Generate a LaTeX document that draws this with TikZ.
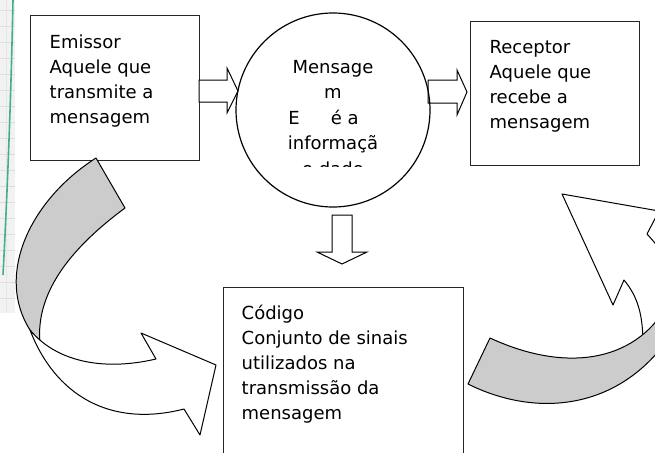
\documentclass[tikz,border=0pt]{standalone}
\usepackage{fontspec}
\setmainfont{DejaVu Sans}
\definecolor{tealgreen}{RGB}{70,175,135}
\definecolor{ribbongray}{RGB}{204,204,204}
\begin{document}
\begin{tikzpicture}[x=1pt,y=-1pt,
  box/.style={draw=black!85, line width=0.9pt, fill=white, inner sep=0pt, anchor=north west},
  txt/.style={font=\fontsize{18}{25}\selectfont, align=left, anchor=base west, inner sep=0pt},
  ctxt/.style={font=\fontsize{18}{25.5}\selectfont, align=center, anchor=base, inner sep=0pt},
  blk/.style={draw=black, line width=1pt, fill=white, line join=miter},
  ribbon/.style={draw=black, line width=1pt, line join=round},
]
\useasboundingbox (0,0) rectangle (655,452);
\clip (0,0) rectangle (655,452);

% texture strip at the left edge
\fill[black!5] (0,0) rectangle (15,313);
\foreach \yy in {10,26,...,300} \draw[black!13, line width=0.4pt] (0,\yy) -- (15,\yy);
\draw[black!10, line width=0.4pt] (6,0) -- (6,313);
\draw[tealgreen, line width=1.6pt] (13,0) .. controls (11,100) and (7,200) .. (3,275);

% boxes and circle
\node[box, minimum width=169pt, minimum height=145pt] (emissor) at (30,15) {};
\node[box, minimum width=169pt, minimum height=144pt] (receptor) at (470,21) {};
\node[box, minimum width=240pt, minimum height=200pt] (codigo) at (223,287) {};

% block arrows
\draw[blk] (199,80) -- (227,80) -- (227,68) -- (238,91) -- (227,113) -- (227,102) -- (199,102) -- cycle;
\draw[blk] (428,80) -- (457,80) -- (457,70) -- (467,92) -- (457,115) -- (457,103) -- (428,103) -- cycle;
\draw[blk] (332,215) -- (352,215) -- (352,252) -- (367,252) -- (342,264) -- (317,252) -- (332,252) -- cycle;

\node[circle, draw=black, line width=1.2pt, minimum size=194pt, inner sep=0pt] (mensagem) at (333,110) {};

% texts (base anchor = baseline of the last line)
\node[txt] (emissorTxt) at (49.5,123) {Emissor\\Aquele que\\transmite a\\mensagem};
\node[txt] (receptorTxt) at (489.5,128) {Receptor\\Aquele que\\recebe a\\mensagem};
\node[txt] (codigoTxt) at (241.5,419) {Código\\Conjunto de sinais\\utilizados na\\transmissão da\\mensagem};
\begin{scope}
  \clip (220,0) rectangle (450,166.5);
  \node[ctxt] (mensagemTxt) at (333,175) {Mensage\\m\\E\hspace{31pt}é a\rule{19pt}{0pt}\\informaçã\\o dado};
\end{scope}

% left curved arrow
\filldraw[ribbon, fill=ribbongray] (96,158) .. controls (30,200) and (-5,275) .. (30,330) -- (40,343) .. controls (35,290) and (75,245) .. (125,208) -- cycle;
\filldraw[ribbon, fill=white] (30,330) .. controls (55,395) and (110,428) .. (184,409) -- (200,435) -- (216,365) -- (141,333) -- (156,359) .. controls (100,372) and (55,360) .. cycle;

% right curved arrow
\filldraw[ribbon, fill=white] (643,345) .. controls (643,315) and (638,297) .. (624,280) -- (613,305) -- (562,194) -- (659,211) -- (647,234) .. controls (680,270) and (700,310) .. (690,360) -- cycle;
\filldraw[ribbon, fill=ribbongray] (490,338) .. controls (570,375) and (640,360) .. (670,300) -- (680,320) .. controls (630,410) and (540,420) .. (468,384) -- cycle;

\end{tikzpicture}
\end{document}
